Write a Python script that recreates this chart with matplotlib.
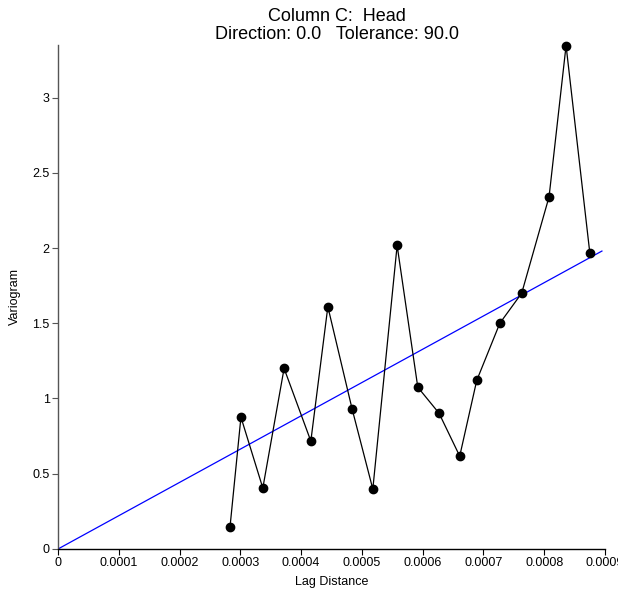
import matplotlib
matplotlib.use('Agg')
import matplotlib.pyplot as plt
import numpy as np

plt.rcParams['font.family'] = ['Liberation Sans', 'DejaVu Sans']

# Experimental variogram: lag distance vs. semivariance
lag_distance = [0.000283, 0.000301, 0.000337, 0.000372, 0.000416, 0.000444,
                0.000484, 0.000518, 0.000558, 0.000592, 0.000627, 0.000661,
                0.000689, 0.000727, 0.000763, 0.000808, 0.000836, 0.000875]
variogram = [0.146, 0.876, 0.405, 1.20, 0.717, 1.61,
             0.929, 0.398, 2.017, 1.075, 0.902, 0.617,
             1.12, 1.50, 1.70, 2.34, 3.345, 1.97]

# Linear model fit
model_x = [0.0, 0.000895]
model_slope = 2212.0

x_ticks = [0, 0.0001, 0.0002, 0.0003, 0.0004, 0.0005, 0.0006, 0.0007, 0.0008, 0.0009]
x_tick_labels = ['0', '0.0001', '0.0002', '0.0003', '0.0004', '0.0005',
                 '0.0006', '0.0007', '0.0008', '0.0009']
y_ticks = [0, 0.5, 1, 1.5, 2, 2.5, 3]
y_tick_labels = ['0', '0.5', '1', '1.5', '2', '2.5', '3']

fig = plt.figure(figsize=(6.18, 5.91), dpi=100)
ax = fig.add_axes([0.0939, 0.0711, 0.885, 0.853])

ax.plot(model_x, [model_slope * x for x in model_x], color='#0000ff', linewidth=0.9, zorder=2)
ax.plot(lag_distance, variogram, color='black', linewidth=0.9, marker='o',
        markersize=6, markerfacecolor='black', markeredgecolor='black', zorder=3,
        clip_on=False)

ax.set_xlim(0, 0.0009)
ax.set_ylim(0, 3.35)
ax.set_xticks(x_ticks)
ax.set_xticklabels(x_tick_labels)
ax.set_yticks(y_ticks)
ax.set_yticklabels(y_tick_labels)

for side in ['top', 'right']:
    ax.spines[side].set_visible(False)
ax.spines['left'].set_color('#555555')
ax.spines['left'].set_linewidth(1.0)
ax.spines['bottom'].set_color('black')
ax.spines['bottom'].set_linewidth(1.0)

ax.tick_params(axis='both', labelsize=9, length=4, width=0.8, pad=2)
ax.tick_params(axis='y', colors='#555555', labelcolor='black')

ax.set_xlabel('Lag Distance', fontsize=9, labelpad=5)
ax.set_ylabel('Variogram', fontsize=9, labelpad=8)
ax.set_title('Column C:  Head\nDirection: 0.0   Tolerance: 90.0', fontsize=13,
             linespacing=1.1, x=0.51, pad=4)

plt.savefig('out.png', dpi=100, facecolor='#FFFFFF')
plt.close()
